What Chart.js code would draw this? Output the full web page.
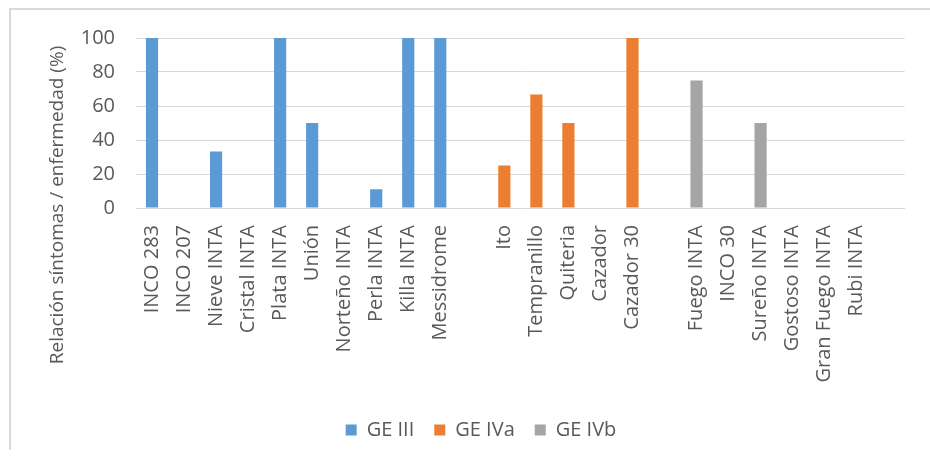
<!DOCTYPE html>
<html>
<head>
<meta charset="utf-8">
<script src="https://cdn.jsdelivr.net/npm/chart.js@4/dist/chart.umd.min.js"></script>
<style>
  html, body { margin: 0; padding: 0; background: #fff; overflow: hidden; }
  #frame {
    position: absolute; left: 9px; top: 8px;
    border-left: 2px solid #d9d9d9; border-top: 2px solid #d9d9d9;
  }
  #chart { display: block; }
</style>
</head>
<body>
<div id="frame"><canvas id="chart" width="919" height="440"></canvas></div>
<script>
// Variedades (los huecos vacíos separan los grupos)
const variedades = ["INCO 283", "INCO 207", "Nieve INTA", "Cristal INTA", "Plata INTA", "Unión", "Norteño INTA", "Perla INTA", "Killa INTA", "Messidrome",
  "",
  "Ito", "Tempranillo", "Quiteria", "Cazador", "Cazador 30",
  "",
  "Fuego INTA", "INCO 30", "Sureño INTA", "Gostoso INTA", "Gran Fuego INTA", "Rubi INTA",
  ""];

const valoresGEIII = [100, 0, 33.3, 0, 100, 50, 0, 11.1, 100, 100, null, null, null, null, null, null, null, null, null, null, null, null, null, null];
const valoresGEIVa = [null, null, null, null, null, null, null, null, null, null, null, 25, 66.7, 50, 0, 100, null, null, null, null, null, null, null, null];
const valoresGEIVb = [null, null, null, null, null, null, null, null, null, null, null, null, null, null, null, null, null, 75, 0, 50, 0, 0, 0, null];

const ticksY = [0, 20, 40, 60, 80, 100];
const tituloY = "Relación síntomas / enfermedad (%)";

const grisTexto = '#595959';
const fuente = "'Open Sans', sans-serif";

// titulo del eje Y, centrado como en el original
const tituloEjeY = {
  id: 'tituloEjeY',
  afterDraw(chart) {
    const ctx = chart.ctx;
    ctx.save();
    ctx.translate(47, 195);
    ctx.rotate(-Math.PI / 2);
    ctx.font = "19px " + fuente;
    ctx.fillStyle = grisTexto;
    ctx.textAlign = 'center';
    ctx.textBaseline = 'middle';
    ctx.fillText(tituloY, 0, 0);
    ctx.restore();
  }
};

new Chart(document.getElementById('chart'), {
  type: 'bar',
  data: {
    labels: variedades,
    datasets: [
      { label: 'GE III', data: valoresGEIII, backgroundColor: '#5B9BD5' },
      { label: 'GE IVa', data: valoresGEIVa, backgroundColor: '#ED7D31' },
      { label: 'GE IVb', data: valoresGEIVb, backgroundColor: '#A5A5A5' }
    ]
  },
  options: {
    responsive: false,
    animation: false,
    layout: { padding: { left: 35, right: 14, top: 28, bottom: 0 } },
    datasets: { bar: { barPercentage: 0.38, categoryPercentage: 1 } },
    plugins: {
      tooltip: { enabled: false },
      legend: {
        position: 'bottom',
        labels: {
          boxWidth: 11, boxHeight: 11, padding: 20,
          color: grisTexto,
          font: { family: fuente, size: 20 }
        }
      }
    },
    scales: {
      x: {
        stacked: true,
        grid: { display: false, drawTicks: false },
        border: { color: '#d9d9d9', width: 1 },
        ticks: {
          autoSkip: false, minRotation: 90, maxRotation: 90, padding: 17,
          color: grisTexto, font: { family: fuente, size: 20 }
        },
        afterFit(scale) { scale.height = 192; }
      },
      y: {
        stacked: true,
        min: 0, max: 100,
        afterBuildTicks(scale) { scale.ticks = ticksY.map(v => ({ value: v })); },
        grid: { color: '#d9d9d9', drawTicks: false },
        border: { display: false },
        ticks: { padding: 21, color: grisTexto, font: { family: fuente, size: 20 } },
        afterFit(scale) {
          scale.width = 90;
          scale.paddingTop = 0;
          scale.paddingBottom = 0;
        }
      }
    }
  },
  plugins: [tituloEjeY]
});
</script>
</body>
</html>
